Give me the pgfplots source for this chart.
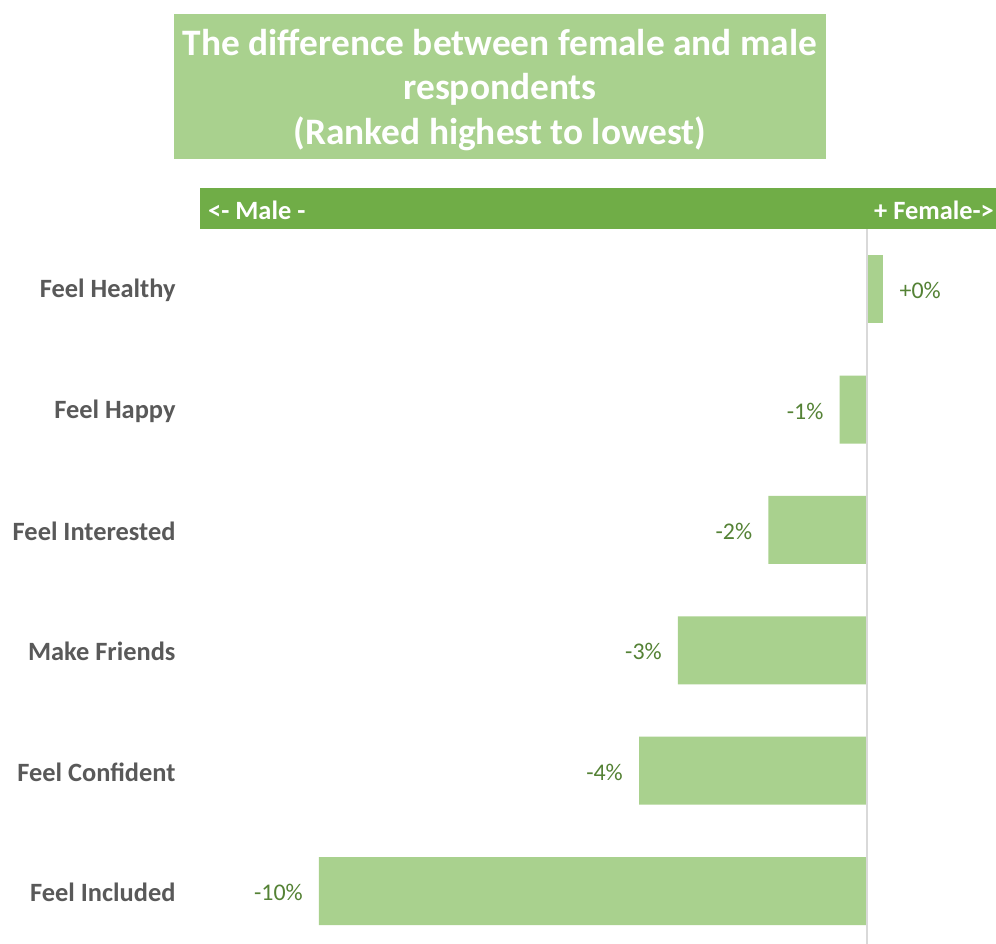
\documentclass[border=0pt]{standalone}
\usepackage{pgfplots}
\pgfplotsset{compat=1.18}
\usepackage{fontspec}
\setmainfont{Carlito}
\definecolor{lightg}{HTML}{A9D18E}
\definecolor{darkg}{HTML}{70AD47}
\definecolor{labg}{HTML}{548235}
\definecolor{catg}{HTML}{595959}
\definecolor{zerog}{HTML}{D9D9D9}
\begin{document}
\begin{tikzpicture}[x=1bp,y=1bp]
\clip (0,0) rectangle (996,-944);
\fill[white] (0,0) rectangle (996,-944);
\fill[lightg] (174,-14) rectangle (826,-159);
\node[align=center, text=white, font=\fontsize{37.5}{45}\selectfont\bfseries] at (500,-90) {The difference between female and male\\respondents\\(Ranked highest to lowest)};
\fill[darkg] (200,-188) rectangle (996,-229);
\node[anchor=west, text=white, inner sep=0pt, font=\fontsize{26.5}{30}\selectfont\bfseries] at (208,-210) {<- Male -};
\node[anchor=east, text=white, inner sep=0pt, font=\fontsize{26.5}{30}\selectfont\bfseries] at (994,-210) {+ Female->};
\begin{axis}[
  at={(200bp,-944bp)}, anchor=south west,
  scale only axis, width=796bp, height=715bp,
  xmin=-12.17, xmax=2.354, ymin=-0.5, ymax=5.44,
  y dir=reverse,
  xbar, bar width=68bp, bar shift=0pt,
  axis line style={draw=none},
  xtick=\empty,
  ytick={0,1,2,3,4,5},
  yticklabels={Feel Healthy,Feel Happy,Feel Interested,Make Friends,Feel Confident,Feel Included},
  major tick length=0pt,
  tick style={draw=none},
  yticklabel style={font=\fontsize{26.5}{30}\selectfont\bfseries, text=catg, xshift=-21bp, yshift=-1.5bp},
  point meta=explicit symbolic,
  nodes near coords,
  clip=false,
]
\addplot[fill=lightg, draw=none,
  every node near coord/.append style={anchor=west, inner sep=0pt, xshift=16bp, yshift=-1.5bp, text=labg, font=\fontsize{24}{28}\selectfont}]
  coordinates {(0.3,0) [+0\%]};
\addplot[fill=lightg, draw=none,
  every node near coord/.append style={anchor=east, inner sep=0pt, xshift=-16bp, yshift=-1.5bp, text=labg, font=\fontsize{24}{28}\selectfont}]
  coordinates {(-0.5,1) [-1\%] (-1.8,2) [-2\%] (-3.45,3) [-3\%] (-4.16,4) [-4\%] (-10.0,5) [-10\%]};
\draw[zerog, line width=2.5bp] (axis cs:0,-0.5) -- (axis cs:0,5.44);
\end{axis}
\end{tikzpicture}
\end{document}
